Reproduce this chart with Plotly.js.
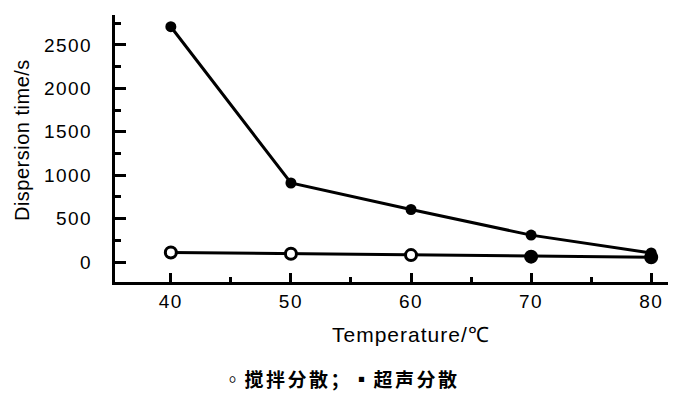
<!DOCTYPE html>
<html><head><meta charset="utf-8">
<script src="https://cdn.plot.ly/plotly-3.0.1.min.js"></script>
<style>
body{margin:0;background:#fff;overflow:hidden}
.xtick text, .ytick text {letter-spacing: 1.5px;}
</style>
</head><body>
<div id="chart" style="width:676px;height:393px"></div>
<script>
const temperature = [40, 50, 60, 70, 80];
const stirTime = [2710, 910, 605, 310, 105];
const ultraTime = [110, 95, 80, 62, 55];
const ultraFill = ['#fff', '#fff', '#fff', '#000', '#000'];
const xTicks = [40, 50, 60, 70, 80];
const yTicks = [0, 500, 1000, 1500, 2000, 2500];
const xTitle = 'Temperature/℃';
const yTitle = 'Dispersion time/s';
const caption = "◦搅拌分散；▪超声分散";

const sp = (t, px) => '<span style="letter-spacing:' + px + 'px">' + t + '</span>';

const traces = [
  {x: temperature, y: stirTime, mode: 'lines+markers', type: 'scatter',
   line: {color: '#000', width: 3}, marker: {symbol: 'circle', size: 11, color: '#000'}},
  {x: temperature, y: ultraTime, mode: 'lines+markers', type: 'scatter',
   line: {color: '#000', width: 3}, marker: {symbol: 'circle', size: 11, color: ultraFill, line: {color: '#000', width: 3}}}
];
const layout = {
  width: 676, height: 393, showlegend: false,
  paper_bgcolor: '#fff', plot_bgcolor: '#fff',
  margin: {l: 115, r: 8, t: 15, b: 111},
  font: {family: 'Arial, Liberation Sans, sans-serif', color: '#000'},
  xaxis: {range: [35.35, 81.4], tickvals: xTicks, ticktext: xTicks.map(String),
    showline: true, linewidth: 3, linecolor: '#000', showgrid: false, zeroline: false,
    ticks: 'inside', ticklen: 9, tickwidth: 3, tickcolor: '#000',
    minor: {dtick: 5, tick0: 0, ticks: 'inside', ticklen: 5, tickwidth: 3, tickcolor: '#000'},
    tickfont: {size: 19}, ticklabelstandoff: 0},
  yaxis: {range: [-230, 2845], tickvals: yTicks, ticktext: yTicks.map(String),
    showline: true, linewidth: 3, linecolor: '#000', showgrid: false, zeroline: false,
    ticks: 'inside', ticklen: 11, tickwidth: 3, tickcolor: '#000',
    minor: {dtick: 250, tick0: 0, ticks: 'inside', ticklen: 6, tickwidth: 3, tickcolor: '#000'},
    tickfont: {size: 19}, ticklabelstandoff: 16},
  annotations: [
    {text: sp(xTitle, 1), xref: 'paper', yref: 'paper', x: 0.535, y: -0.1985,
     xanchor: 'center', yanchor: 'middle', showarrow: false, font: {size: 21}},
    {text: sp(yTitle, 0.5), xref: 'paper', yref: 'paper', x: -0.168, y: 0.532, textangle: -90,
     xanchor: 'center', yanchor: 'middle', showarrow: false, font: {size: 20}},
    {text: sp(caption, 2.5), xref: 'paper', yref: 'paper', x: 0.409, y: -0.36,
     xanchor: 'center', yanchor: 'middle', showarrow: false,
     font: {family: 'Noto Sans CJK SC', size: 19, color: '#000', weight: 'bold'}}
  ]
};
Plotly.newPlot('chart', traces, layout, {displayModeBar: false, staticPlot: true});
</script>
</body></html>
